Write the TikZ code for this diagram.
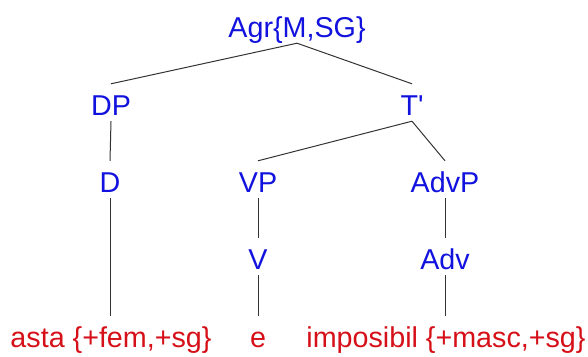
\documentclass[tikz,border=0pt]{standalone}
\usepackage{fontspec}
\setmainfont{Liberation Sans}
\definecolor{catblue}{RGB}{18,18,222}
\definecolor{leafred}{RGB}{214,16,24}

\begin{document}
\begin{tikzpicture}[x=1pt,y=-1pt,font=\fontsize{28.7}{34}\selectfont,
  cat/.style={text=catblue,inner sep=0pt,text height=31pt,text depth=6pt,anchor=base},
  leaf/.style={cat,text=leafred},
  br/.style={draw=black!80,line width=1pt}]
  \useasboundingbox (0,0) rectangle (588,356);
  \node[cat] (agr) at (297,37) {Agr\{M,SG\}};
  \node[cat] (dp) at (111,115) {DP};
  \node[cat] (tb) at (412,115) {T\textquotesingle};
  \node[cat] (d) at (110,192) {D};
  \node[cat] (vp) at (258,192) {VP};
  \node[cat] (advp) at (445,192) {AdvP};
  \node[cat] (v) at (258,269) {V};
  \node[cat] (adv) at (445,269) {Adv};
  \node[leaf] (asta) at (111,347) {asta \{+fem,+sg\}};
  \node[leaf] (e) at (258,347) {e};
  \node[leaf] (imp) at (446,347) {imposibil \{+masc,+sg\}};
  \draw[br] (agr.south)--(dp.north); \draw[br] (agr.south)--(tb.north);
  \draw[br] (dp.south)--(d.north);
  \draw[br] (tb.south)--(vp.north); \draw[br] (tb.south)--(advp.north);
  \draw[br] (d.south)--(d.south|-asta.north);
  \draw[br] (vp.south)--(v.north); \draw[br] (v.south)--(e.north);
  \draw[br] (advp.south)--(adv.north); \draw[br] (adv.south)--(adv.south|-imp.north);
\end{tikzpicture}
\end{document}
